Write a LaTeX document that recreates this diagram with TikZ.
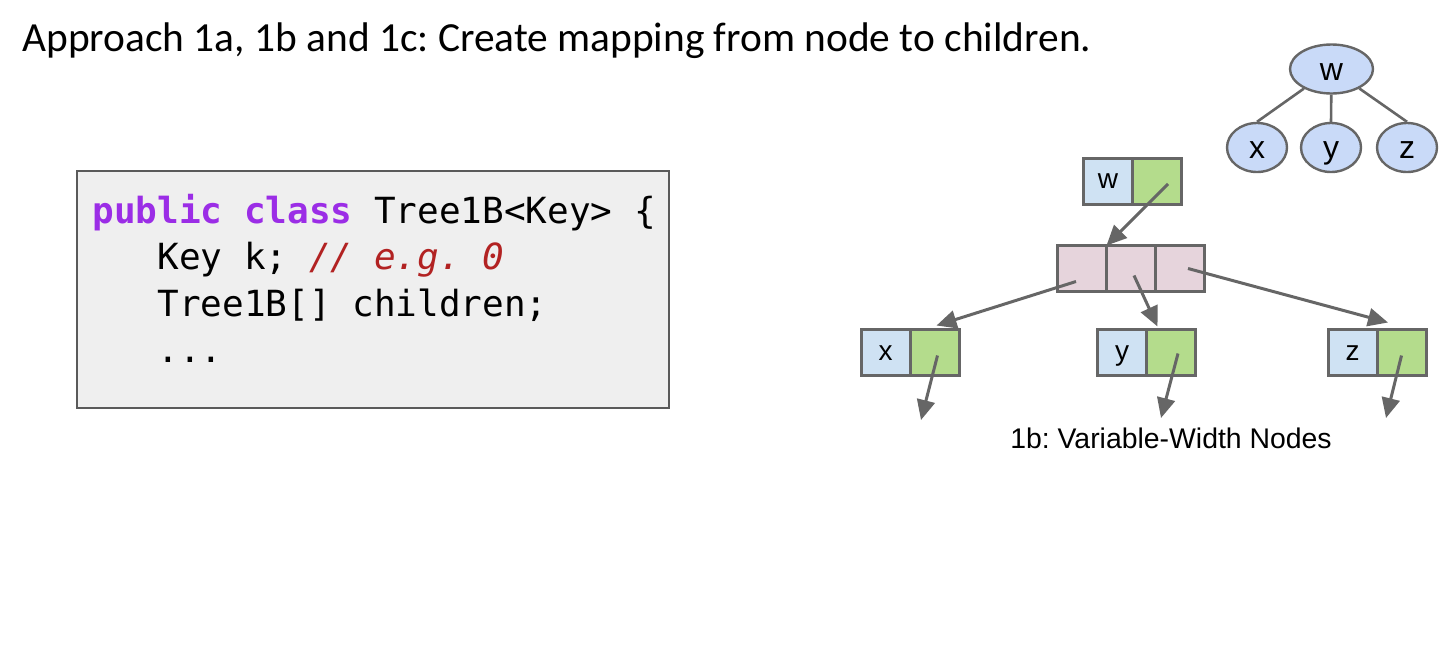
\documentclass[tikz,border=0pt]{standalone}
\usepackage{fontspec}
\setmainfont{Liberation Sans}
\setmonofont{DejaVu Sans Mono}
\newfontfamily\titlefont{Carlito}
\usepackage{xcolor}
\usetikzlibrary{arrows.meta, positioning, shapes.geometric}
\frenchspacing

\definecolor{linegray}{RGB}{102,102,102}
\definecolor{keyblue}{RGB}{207,226,243}
\definecolor{ptrgreen}{RGB}{180,220,140}
\definecolor{arrpink}{RGB}{230,212,220}
\definecolor{treeblue}{RGB}{201,218,248}
\definecolor{codebg}{RGB}{239,239,239}
\definecolor{codeframe}{RGB}{90,90,90}
\definecolor{kwpurple}{RGB}{155,45,230}
\definecolor{cmtred}{RGB}{178,34,34}

\newcommand{\kw}[1]{\textcolor{kwpurple}{\textbf{#1}}}
\newcommand{\cmt}[1]{\textcolor{cmtred}{\textit{#1}}}

\begin{document}
\begin{tikzpicture}[x=0.5pt, y=-0.5pt, >={Triangle[length=10pt, width=9pt]},
    cell/.style={rectangle, draw=linegray, line width=1.5pt, minimum width=24.5pt,
        minimum height=23pt, inner sep=0pt, outer sep=0pt, text height=7.5pt, text depth=0pt,
        font=\fontsize{14}{17}\selectfont},
    keycell/.style={cell, fill=keyblue},
    ptrcell/.style={cell, fill=ptrgreen},
    arrcell/.style={cell, fill=arrpink},
    treenode/.style={ellipse, draw=linegray, line width=1.2pt, fill=treeblue,
        minimum width=30pt, minimum height=24.5pt, inner sep=0pt, text height=11pt, text depth=0pt,
        font=\fontsize{16}{19}\selectfont},
    ptr/.style={->, draw=linegray, line width=1.5pt},
    edge/.style={draw=linegray, line width=1.3pt}]

    \useasboundingbox (0,0) rectangle (1450,670);

    % title
    \node[anchor=base west, inner sep=0pt, font=\titlefont\fontsize{20.7}{25}\selectfont] (title) at (22,51)
        {Approach 1a, 1b and 1c: Create mapping from node to children.};

    % code box
    \node[rectangle, draw=codeframe, fill=codebg, line width=0.8pt, minimum width=296pt,
        minimum height=118.5pt] (code) at (373,289.5) {};
    \node[anchor=base west, inner sep=0pt, align=left,
        font=\ttfamily\fontsize{18}{23.25}\selectfont] (codetext) at (92,362.5) {%
        \kw{public} \kw{class} Tree1B<Key> \{\\
        \ \ \ Key k; \cmt{// e.g. 0}\\
        \ \ \ Tree1B[] children;\\
        \ \ \ ...};

    % small tree
    \node[treenode, minimum width=41.5pt] (tw) at (1331.5,69) {w};
    \node[treenode] (tx) at (1257,147.5) {x};
    \node[treenode] (ty) at (1331,147.5) {y};
    \node[treenode] (tz) at (1407,147.5) {z};
    \draw[edge] (tw) -- (tx.north);
    \draw[edge] (tw) -- (ty.north);
    \draw[edge] (tw) -- (tz.north);

    % variable-width nodes
    \node[keycell] (wkey) at (1108,181) {w};
    \node[ptrcell, right=0pt of wkey] (wptr) {};

    \node[arrcell] (arr1) at (1082,268.5) {};
    \node[arrcell, right=0pt of arr1] (arr2) {};
    \node[arrcell, right=0pt of arr2] (arr3) {};

    \node[keycell] (xkey) at (885.5,352.5) {x};
    \node[ptrcell, right=0pt of xkey] (xptr) {};
    \node[keycell] (ykey) at (1122,352.5) {y};
    \node[ptrcell, right=0pt of ykey] (yptr) {};
    \node[keycell] (zkey) at (1352.5,352.5) {z};
    \node[ptrcell, right=0pt of zkey] (zptr) {};

    \coordinate (xnull) at (921,420);
    \coordinate (ynull) at (1161,418);
    \coordinate (znull) at (1386,418);

    \draw[ptr] ([shift={(11,3)}]wptr.center) -- (arr1.north east);
    \draw[ptr] ([shift={(-6,13)}]arr1.center) -- ([shift={(2,-4)}]xptr.north);
    \draw[ptr] ([shift={(3,7)}]arr2.center) -- ([shift={(11,-3)}]yptr.north west);
    \draw[ptr] ([shift={(8,0)}]arr3.center) -- ([shift={(11,-7)}]zptr.north west);
    \draw[ptr] ([shift={(3,3)}]xptr.center) -- (xnull);
    \draw[ptr] ([shift={(7,1)}]yptr.center) -- (ynull);
    \draw[ptr] ([shift={(0,3)}]zptr.center) -- (znull);

    \node[font=\fontsize{14.2}{17}\selectfont] (caption) at (1171,438) {1b: Variable-Width Nodes};
\end{tikzpicture}
\end{document}
